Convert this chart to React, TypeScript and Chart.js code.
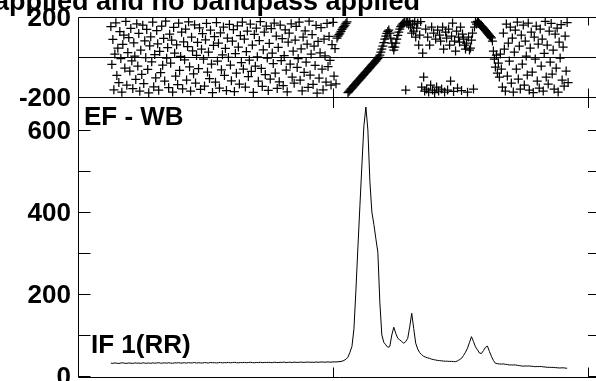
import { useEffect, useRef } from 'react';
import { Chart, registerables } from 'chart.js';

Chart.register(...registerables);

// ---------------- data ----------------
const titleText = 'applied and no bandpass applied';
const panelLabel = 'EF - WB';
const ifLabel = 'IF 1(RR)';

const xRange = [0, 524];
const xMajorTicks = [256, 512];

const phaseRange = [-200, 200];
const phaseLabelValues = [200, -200];

const ampRange = [-2.4, 680.5];
const ampTickValues = [0, 100, 200, 300, 400, 500, 600];
const ampLabelValues = [0, 200, 400, 600];

const PHASE_START = 33; // first channel with a phase value (step 1)
const AMP_START = 33; // first channel with an amplitude value (step 2)

// phase (deg) — noisy part, channels 33..259
const phaseNoiseLeft = [
  152, -37, 88, -164, 15, 171, -92, 44, -128, 127, -8, -176, 63, 109, -55,
  178, -141, 22, 97, -70, 143, -19, -158, 71, 5, -112, 166, -45, 118, -171,
  34, -87, 159, -133, 81, -3, 138, -62, -179, 56, 101, -24, 174, -149, 12,
  -104, 132, 66, -166, 28, -78, 155, -41, 93, -120, 179, -6, 47, -153, 114,
  -31, 84, -175, 148, 19, -96, 61, -138, 169, -67, 3, 124, -159, 76, -14,
  140, -115, 52, 176, -49, -170, 99, 31, -84, 161, -130, 8, 73, -58, 146,
  -162, 39, 117, -11, -145, 86, 168, -75, 25, -108, 134, -35, -178, 58, 102,
  -126, 172, -20, 69, -155, 121, -64, 11, 150, -92, 43, -168, 95, -2, 163,
  -40, -119, 79, 137, -173, 17, -81, 156, 50, -135, 107, -28, 174, -60, 90,
  -150, 27, 130, -98, -15, 165, -72, 60, -177, 113, -46, 145, 1, -121, 82,
  177, -57, -147, 36, 125, -88, 154, -5, -167, 68, -110, 142, 20, -33, 170,
  -80, 105, -157, 48, -124, 160, -18, 92, -143, 7, 136, -66, -174, 74, 119,
  -36, 166, -101, 29, -131, 85, 153, -52, -8, 175, -116, 41, -169, 100, -77,
  131, -26, 64, -152, 179, -90, 14, 112, -137, 54, -42, 158, -180, 78, -106,
  21, 147, -61, -164, 89, 6, -125, 168, -48, 103, -17, -140, 62, 173, -95,
  42, -134,
];

// phase — coherent part around the lines, channels 260..425
const phaseSignal = [
  95, 105, 112, 120, 128, 138, 146, 152, 160, 168, 176,
  -178, -172, -166, -160, -155, -149, -143, -138, -132, -126, -121, -115, -109, -104, -98, -92,
  -87, -81, -75, -70, -64, -58, -53, -47, -41, -36, -30, -24, -19, -13, -7, -1,
  10, 25, 40, 55, 72, 90, 105, 118, 128, 135,
  120, 95, 70, 50, 35,
  50, 70, 90, 108, 125, 140, 152, 160, 166, 170,
  175, -165, 172, 178, 160, 179, 150, 120, 165, 130, 178, 100, 145, 170, 60, 110, 177, -150,
  20, -100, -170, 140, -160, 100, -175, 60, -140, 150, -165, 120, -178, 90, -150,
  135, -170, 110, 80, -160, 150, 40, -175, 125, 95, -165, 140, 60, -120, 105,
  170, -172, 80, 30, 130, -155, 100, 75, 150, -168, 115, 90, 60, 40, 70,
  -176, 100, 35, 45, 85, 120, -160, 150, 175, 165,
  178, 172, 166, 160, 155, 150, 145, 138, 132, 126, 120, 114, 108, 102, 96,
  80, 30, -10, -50, 10, -80, -30, -100, 15, -60,
];

// phase — noisy part, channels 426..492
const phaseNoiseRight = [
  -150, 120, 40, -170, 165, -95, 70, -20, 150, -130,
  95, -175, 25, 135, -60, 175, -110, 55, -160, 110,
  -35, 160, -140, 80, 5, -90, 170, -165, 45, 125,
  -75, -178, 100, -10, 155, -120, 65, -155, 140, -45,
  90, -170, 18, 178, -100, 60, -135, 130, -25, 168,
  -85, 35, -160, 115, -55, 145, -175, 75, -5, 162,
  -115, 50, -145, 105, -70, 172, -128,
];

// amplitude — channels 33..271 (every 2nd channel)
const ampBaseline = [
  31.5, 30.8, 31.9, 31.2, 30.6, 31.7, 32.3, 31.0, 30.9, 31.8, 31.4, 30.7, 32.0, 31.3, 31.6, 30.8, 32.2, 31.5, 31.1, 31.9,
  30.9, 32.1, 31.4, 31.8, 32.5, 31.2, 31.7, 32.0, 31.3, 32.4, 31.6, 31.0, 32.2, 31.8, 32.6, 31.4, 31.9, 32.3, 31.5, 32.7,
  31.8, 32.1, 32.9, 31.6, 32.4, 32.0, 31.7, 32.8, 32.2, 31.9, 33.0, 32.3, 32.6, 31.8, 32.5, 33.1, 32.0, 32.7, 32.4, 33.2,
  32.1, 32.8, 33.4, 32.5, 32.2, 33.0, 32.6, 33.3, 32.4, 32.9, 33.5, 32.7, 32.3, 33.1, 32.8, 33.6, 32.5, 33.2, 32.9, 33.4,
  33.0, 32.6, 33.7, 33.1, 32.8, 33.5, 33.2, 33.9, 32.9, 33.3, 33.6, 33.0, 33.8, 33.4, 33.1, 34.0, 33.5, 33.2, 33.7, 34.1,
  33.4, 33.8, 33.3, 34.2, 33.6, 33.9, 34.3, 33.7, 34.0, 34.4, 33.8, 34.1, 34.6, 34.2, 34.8, 35.2, 36.0, 38.0, 41, 46,
];

// amplitude — channels 273..491 (every 2nd channel)
const ampSignal = [
  58, 72, 115, 210, 315, 415, 515, 610, 656, 600,
  475, 400, 370, 335, 302, 180, 100, 82, 76, 70,
  72, 100, 119, 104, 92, 88, 84, 80, 84, 92,
  120, 153, 116, 80, 66, 57, 52, 48, 46, 44,
  43, 41, 40, 39, 38, 37.5, 37, 36.5, 36, 36.2,
  35.5, 35.8, 35.2, 35, 37, 40, 43, 50, 58, 68,
  82, 96, 84, 71, 64, 56, 55, 62, 70, 73,
  60, 48, 38, 31, 30, 29.5, 29, 29.6, 28.5, 28,
  26.9, 27.2, 26.8, 27.1, 26, 25.5, 24.5, 24.1, 24.5, 24.2,
  24.6, 23.8, 23.5, 22.7, 23.2, 23, 23.2, 22.3, 22, 21.2,
  21.3, 21, 21.1, 20.4, 20.2, 19.6, 19.8, 20.1, 19.3, 19,
];

const phase = [...phaseNoiseLeft, ...phaseSignal, ...phaseNoiseRight];
const amplitude = [...ampBaseline, ...ampSignal];

// ---------------- styling ----------------
const FONT_FAMILY = '"Liberation Sans", Arial, Helvetica, sans-serif';
const CANVAS_W = 620;
const CANVAS_H = 381;

const crisp = (v: number) => Math.round(v) + 0.5;
const seg = (ctx: CanvasRenderingContext2D, x1: number, y1: number, x2: number, y2: number) => {
  ctx.beginPath();
  ctx.moveTo(x1, y1);
  ctx.lineTo(x2, y2);
  ctx.stroke();
};

const topFrame = {
  id: 'topFrame',
  afterDraw(chart: any) {
    const { ctx, chartArea: a } = chart;
    const xs = chart.scales.x;
    const ys = chart.scales.y;
    ctx.save();
    ctx.strokeStyle = '#000';
    ctx.lineWidth = 1;
    const L = crisp(a.left);
    const R = a.right;
    const T = crisp(a.top);
    const B = crisp(a.bottom);
    seg(ctx, L, T, R, T);
    seg(ctx, L, B, R, B);
    seg(ctx, L, T, L, B);
    const z = crisp(ys.getPixelForValue(0));
    seg(ctx, L, z, R, z);
    xMajorTicks.forEach((v) => {
      const x = crisp(xs.getPixelForValue(v));
      seg(ctx, x, T, x, T + 8);
      seg(ctx, x, B, x, B - 9);
    });
    ctx.fillStyle = '#000';
    ctx.font = `bold 27px ${FONT_FAMILY}`;
    ctx.textAlign = 'right';
    ctx.textBaseline = 'alphabetic';
    ctx.fillText(titleText, 420, 10);
    ctx.restore();
  },
};

const bottomFrame = {
  id: 'bottomFrame',
  afterDraw(chart: any) {
    const { ctx, chartArea: a } = chart;
    const xs = chart.scales.x;
    const ys = chart.scales.y;
    ctx.save();
    ctx.strokeStyle = '#000';
    ctx.lineWidth = 1;
    const L = crisp(a.left);
    const R = a.right;
    const T = a.top;
    const B = crisp(a.bottom);
    seg(ctx, L, T, L, B);
    seg(ctx, L, B, R, B);
    ampTickValues.forEach((v) => {
      const y = crisp(ys.getPixelForValue(v));
      seg(ctx, L, y, L + 12, y);
      seg(ctx, R - 12, y, R, y);
    });
    xMajorTicks.forEach((v) => {
      const x = crisp(xs.getPixelForValue(v));
      seg(ctx, x, B, x, B - 10);
      seg(ctx, x, T, x, T + 11);
    });
    ctx.fillStyle = '#000';
    ctx.font = `bold 26px ${FONT_FAMILY}`;
    ctx.textAlign = 'left';
    ctx.textBaseline = 'alphabetic';
    ctx.fillText(panelLabel, a.left + 6, a.top + 28);
    ctx.fillText(ifLabel, a.left + 13, a.bottom - 24.5);
    ctx.restore();
  },
};

const yAxisCommon = (labelValues: number[]) => ({
  type: 'linear' as const,
  position: 'left' as const,
  grid: { display: false, drawTicks: false },
  border: { display: false },
  afterFit: (s: any) => {
    s.width = 78;
    s.paddingTop = 0;
    s.paddingBottom = 0;
  },
  afterBuildTicks: (s: any) => {
    s.ticks = labelValues.map((v) => ({ value: v }));
  },
  ticks: {
    autoSkip: false,
    padding: 7,
    labelOffset: 2,
    color: '#000',
    font: { family: FONT_FAMILY, size: 26, weight: 'bold' as const },
    callback: (v: any) => String(v),
  },
});

export default function App() {
  const topRef = useRef<HTMLCanvasElement>(null);
  const botRef = useRef<HTMLCanvasElement>(null);

  useEffect(() => {
    const phasePoints = phase.map((p, i) => ({ x: PHASE_START + i, y: p }));
    const ampPoints = amplitude.map((v, i) => ({ x: AMP_START + 2 * i, y: v }));

    const top = new Chart(topRef.current as HTMLCanvasElement, {
      type: 'scatter',
      data: {
        datasets: [
          {
            data: phasePoints,
            showLine: false,
            pointStyle: 'cross',
            pointRadius: 4.5,
            pointHoverRadius: 4.5,
            pointBorderWidth: 1.25,
            pointBorderColor: '#000',
            pointBackgroundColor: '#000',
            borderColor: '#000',
            backgroundColor: '#000',
          },
        ],
      },
      options: {
        responsive: false,
        animation: false,
        devicePixelRatio: 1,
        events: [],
        layout: { padding: { top: 17, bottom: CANVAS_H - 97, left: 0, right: CANVAS_W - 600 }, autoPadding: false },
        plugins: { legend: { display: false }, tooltip: { enabled: false }, title: { display: false } },
        scales: {
          x: { type: 'linear', min: xRange[0], max: xRange[1], display: false },
          y: { ...yAxisCommon(phaseLabelValues), min: phaseRange[0], max: phaseRange[1] },
        },
      } as any,
      plugins: [topFrame],
    });

    const bottom = new Chart(botRef.current as HTMLCanvasElement, {
      type: 'line',
      data: {
        datasets: [
          {
            data: ampPoints,
            borderColor: '#000',
            borderWidth: 1,
            pointRadius: 0,
            tension: 0,
            fill: false,
          },
        ],
      },
      options: {
        responsive: false,
        animation: false,
        devicePixelRatio: 1,
        events: [],
        layout: { padding: { top: 97, bottom: CANVAS_H - 377, left: 0, right: CANVAS_W - 600 }, autoPadding: false },
        plugins: { legend: { display: false }, tooltip: { enabled: false }, title: { display: false } },
        scales: {
          x: { type: 'linear', min: xRange[0], max: xRange[1], display: false },
          y: {
            ...yAxisCommon(ampLabelValues),
            min: ampRange[0],
            max: ampRange[1],
          },
        },
      } as any,
      plugins: [bottomFrame],
    });

    return () => {
      top.destroy();
      bottom.destroy();
    };
  }, []);

  const canvasStyle: any = { position: 'absolute', left: 0, top: 0, width: CANVAS_W, height: CANVAS_H };
  return (
    <div
      style={{
        position: 'fixed',
        left: 0,
        top: 0,
        width: 596,
        height: 381,
        overflow: 'hidden',
        background: '#fff',
      }}
    >
      <canvas ref={topRef} width={CANVAS_W} height={CANVAS_H} style={canvasStyle} />
      <canvas ref={botRef} width={CANVAS_W} height={CANVAS_H} style={canvasStyle} />
    </div>
  );
}
